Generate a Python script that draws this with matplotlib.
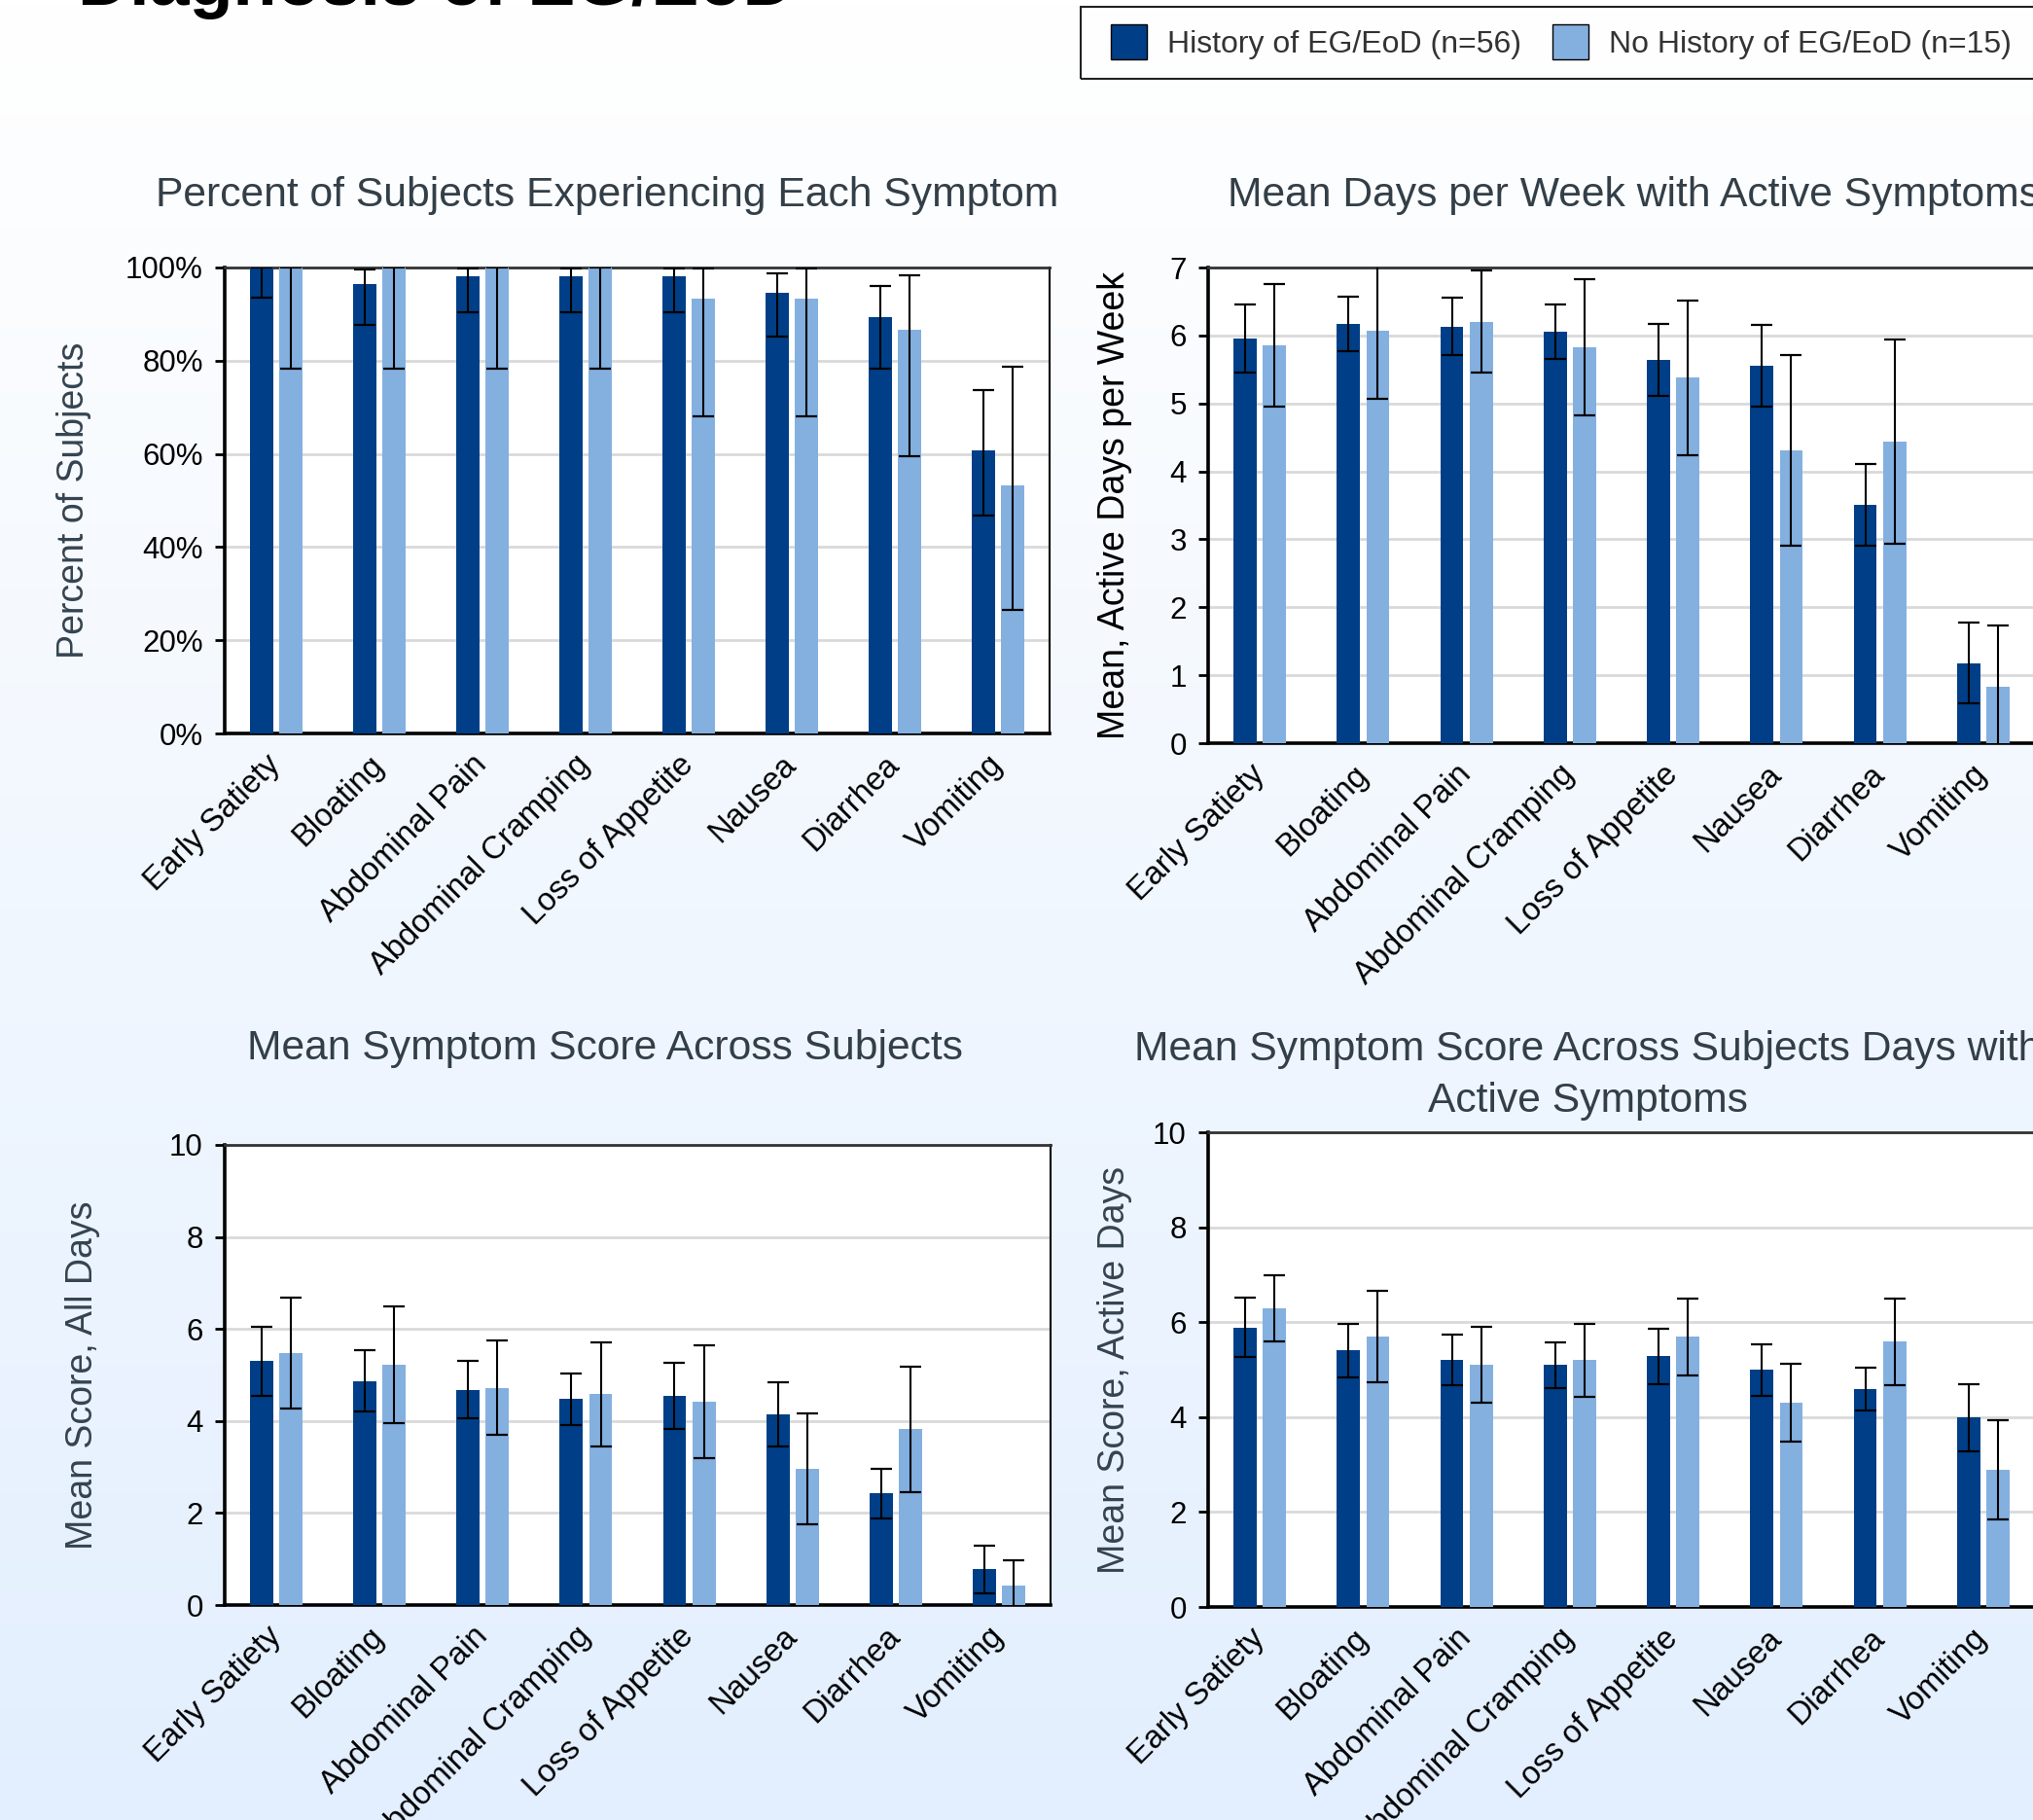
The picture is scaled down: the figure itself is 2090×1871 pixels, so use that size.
import numpy as np
import matplotlib
matplotlib.use("Agg")
import matplotlib.pyplot as plt
from matplotlib.patches import Patch, Rectangle
from matplotlib.transforms import ScaledTranslation

plt.rcParams["font.family"] = ["Liberation Sans", "DejaVu Sans"]

symptoms = ["Early Satiety", "Bloating", "Abdominal Pain", "Abdominal Cramping",
            "Loss of Appetite", "Nausea", "Diarrhea", "Vomiting"]
groups = ["History of EG/EoD (n=56)", "No History of EG/EoD (n=15)"]

# percent of subjects, with CI bounds
pct_hist    = [100.0, 96.4, 98.2, 98.2, 98.2, 94.6, 89.3, 60.7]
pct_hist_lo = [93.6, 87.7, 90.5, 90.5, 90.5, 85.1, 78.2, 46.8]
pct_hist_hi = [100.0, 99.6, 99.8, 99.8, 99.8, 98.8, 96.0, 73.6]
pct_no      = [100.0, 100.0, 100.0, 100.0, 93.3, 93.3, 86.7, 53.3]
pct_no_lo   = [78.2, 78.2, 78.2, 78.2, 68.1, 68.1, 59.6, 26.5]
pct_no_hi   = [100.0, 100.0, 100.0, 100.0, 99.8, 99.8, 98.4, 78.8]

# mean active days per week (mean, +/- error)
days_hist     = [5.96, 6.17, 6.13, 6.05, 5.64, 5.56, 3.51, 1.18]
days_hist_err = [0.50, 0.40, 0.42, 0.40, 0.53, 0.60, 0.60, 0.60]
days_no       = [5.86, 6.07, 6.20, 5.83, 5.38, 4.31, 4.44, 0.83]
days_no_err   = [0.90, 1.00, 0.75, 1.00, 1.14, 1.40, 1.50, 0.90]

# mean symptom score, all days
score_hist     = [5.30, 4.87, 4.68, 4.48, 4.55, 4.15, 2.43, 0.78]
score_hist_err = [0.75, 0.66, 0.63, 0.56, 0.72, 0.70, 0.54, 0.52]
score_no       = [5.48, 5.22, 4.72, 4.58, 4.42, 2.96, 3.82, 0.42]
score_no_err   = [1.20, 1.27, 1.02, 1.13, 1.22, 1.21, 1.36, 0.55]

# mean symptom score, active days only
active_hist     = [5.89, 5.40, 5.21, 5.10, 5.28, 4.99, 4.59, 3.99]
active_hist_err = [0.63, 0.56, 0.53, 0.48, 0.58, 0.55, 0.46, 0.71]
active_no       = [6.29, 5.70, 5.11, 5.20, 5.69, 4.30, 5.59, 2.89]
active_no_err   = [0.69, 0.96, 0.80, 0.77, 0.81, 0.82, 0.91, 1.04]

DARK = "#003f87"
LIGHT = "#84b0e0"
SLATE = "#34434f"
W, H = 2090, 1871

fig = plt.figure(figsize=(W / 100, H / 100), dpi=100)

# soft white -> pale blue background
bg = fig.add_axes([0, 0, 1, 1], zorder=-10)
top = np.array([1.0, 1.0, 1.0])
bot = np.array([227, 239, 254]) / 255
t = np.linspace(0, 1, 400)[:, None]
grad = (top * (1 - t) + bot * t)[:, None, :]
bg.imshow(grad, aspect="auto", extent=[0, 1, 0, 1], origin="upper")
bg.set_axis_off()


def rect(left, top_, right, bottom):
    return [left / W, 1 - bottom / H, (right - left) / W, (bottom - top_) / H]


def fpos(x, y):
    return x / W, 1 - y / H


x = np.arange(len(symptoms))
off, bw = 0.142, 0.225
ebkw = dict(fmt="none", ecolor="black", elinewidth=1.5, capsize=8, capthick=1.6, zorder=4)
nudge = ScaledTranslation(5 / 72, 0, fig.dpi_scale_trans)


def panel(box, a, a_err, b, b_err, ylim, ticks, ylabel, lab_x, lab_color):
    ax = fig.add_axes(rect(*box))
    ax.set_facecolor("white")
    ax.bar(x - off, a, width=bw, color=DARK, zorder=3)
    ax.bar(x + off, b, width=bw, color=LIGHT, zorder=3)
    ax.errorbar(x - off, a, yerr=a_err, **ebkw)
    ax.errorbar(x + off, b, yerr=b_err, **ebkw)
    ax.set_xlim(-0.5, len(symptoms) - 0.5)
    ax.set_ylim(*ylim)
    ax.set_yticks(ticks)
    ax.set_xticks(x)
    ax.set_xticklabels(symptoms, rotation=45, ha="right", va="center",
                       rotation_mode="anchor", fontsize=23.5)
    for lbl in ax.get_xticklabels():
        lbl.set_transform(lbl.get_transform() + nudge)
    ax.tick_params(axis="x", length=0, pad=20)
    ax.tick_params(axis="y", direction="out", length=7, width=2,
                   labelsize=22.5, pad=9, colors="black")
    ax.yaxis.grid(True, color="#d9d9d9", lw=2)
    ax.set_axisbelow(True)
    for s in ("left", "bottom"):
        ax.spines[s].set_linewidth(2.6)
        ax.spines[s].set_color("black")
    ax.spines["top"].set_linewidth(2)
    ax.spines["top"].set_color("#333333")
    ax.spines["right"].set_linewidth(1.5)
    ax.spines["right"].set_color("black")
    ax.set_ylabel(ylabel, fontsize=27, color=lab_color, va="center")
    ax.yaxis.set_label_coords(lab_x, 0.5)
    return ax


pct_a_err = [np.subtract(pct_hist, pct_hist_lo), np.subtract(pct_hist_hi, pct_hist)]
pct_b_err = [np.subtract(pct_no, pct_no_lo), np.subtract(pct_no_hi, pct_no)]
ax1 = panel((231, 275, 1079, 754), pct_hist, pct_a_err, pct_no, pct_b_err,
            (0, 100), range(0, 101, 20), "Percent of Subjects", -0.183, SLATE)
ax1.set_yticklabels([f"{v}%" for v in range(0, 101, 20)])

ax2 = panel((1242, 275, 2092, 764), days_hist, days_hist_err, days_no, days_no_err,
            (0, 7), range(0, 8), "Mean, Active Days per Week", -0.113, "black")

ax3 = panel((231, 1177, 1080, 1650), score_hist, score_hist_err, score_no, score_no_err,
            (0, 10), range(0, 11, 2), "Mean Score, All Days", -0.172, SLATE)

ax4 = panel((1242, 1164, 2092, 1652), active_hist, active_hist_err, active_no, active_no_err,
            (0, 10), range(0, 11, 2), "Mean Score, Active Days", -0.113, SLATE)

# panel titles
tkw = dict(fontsize=30.7, color="#333f48", va="center")
fig.text(*fpos(624, 201), "Percent of Subjects Experiencing Each Symptom", ha="center", **tkw)
fig.text(*fpos(1262, 201), "Mean Days per Week with Active Symptoms", ha="left", **tkw)
fig.text(*fpos(622, 1078), "Mean Symptom Score Across Subjects", ha="center", **tkw)
fig.text(*fpos(1632, 1079), "Mean Symptom Score Across Subjects Days with", ha="center", **tkw)
fig.text(*fpos(1632, 1132), "Active Symptoms", ha="center", **tkw)

# main heading, running off the top edge
fig.text(*fpos(80, 5), "Diagnosis of EG/EoD", fontsize=53, fontweight="bold",
         ha="left", va="baseline", color="black")

# legend
handles = [Patch(facecolor=DARK, edgecolor="black", lw=1),
           Patch(facecolor=LIGHT, edgecolor="black", lw=1)]
leg = fig.legend(handles, groups, loc="center left", bbox_to_anchor=fpos(1142, 43),
                 ncol=2, frameon=False, fontsize=23, handlelength=1.16, handleheight=1.4,
                 handletextpad=0.66, columnspacing=1.0, borderpad=0, borderaxespad=0)
for txt in leg.get_texts():
    txt.set_color("#333333")
fig.patches.append(Rectangle(fpos(1111, 81), (2100 - 1111) / W, 74 / H,
                             transform=fig.transFigure, fill=False,
                             edgecolor="#222222", lw=1.5))

fig.savefig("out.png", dpi=100)
